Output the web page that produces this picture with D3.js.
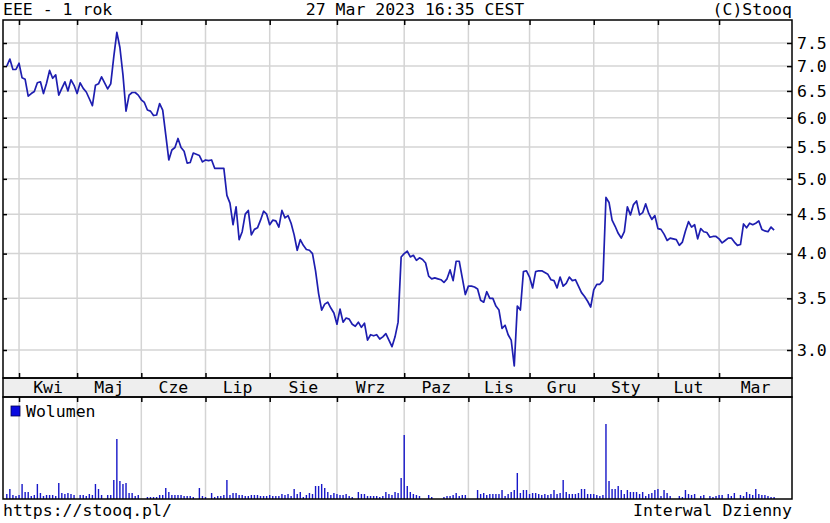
<!DOCTYPE html>
<meta charset="utf-8">
<head>
<style>
  body { margin: 0; background: #fff; }
  text { font-family: "DejaVu Sans Mono", monospace; font-size: 16.5px; fill: #000; }
  .grid { stroke: #d4d4d4; stroke-width: 1.5; }
  .frame { fill: none; stroke: #000; stroke-width: 1.5; }
  .axis path { display: none; }
  .axis line { stroke: #000; stroke-width: 1.5; }
</style>
</head>
<body>
<svg id="chart" width="830" height="523"></svg>
<script src="https://d3js.org/d3.v7.min.js"></script>
<script>

// month labels and the trading-day index where each month starts
var months = ["Kwi", "Maj", "Cze", "Lip", "Sie", "Wrz", "Paz", "Lis", "Gru", "Sty", "Lut", "Mar"];
var monthStart = [4, 23, 44, 65, 86, 108, 130, 151, 171, 192, 213, 233];

// price axis ticks (log scale)
var priceTicks = [3.0, 3.5, 4.0, 4.5, 5.0, 5.5, 6.0, 6.5, 7.0, 7.5];

// daily close, 28 Mar 2022 - 27 Mar 2023
var prices = [
  7.00, 7.15, 6.93, 6.93, 7.06, 6.76, 6.73, 6.40, 6.45, 6.49,
  6.66, 6.68, 6.45, 6.65, 6.91, 6.75, 6.82, 6.42, 6.55, 6.68,
  6.50, 6.72, 6.61, 6.45, 6.66, 6.55, 6.48, 6.35, 6.22, 6.61,
  6.64, 6.78, 6.66, 6.54, 6.64, 7.20, 7.74, 7.40, 6.82, 6.12,
  6.42, 6.47, 6.47, 6.42, 6.33, 6.28, 6.14, 6.12, 6.04, 6.05,
  6.26, 6.14, 5.70, 5.29, 5.45, 5.49, 5.64, 5.49, 5.43, 5.24,
  5.25, 5.40, 5.38, 5.36, 5.26, 5.29, 5.28, 5.29, 5.16, 5.16,
  5.16, 5.16, 4.76, 4.65, 4.36, 4.60, 4.17, 4.27, 4.50, 4.55,
  4.23, 4.30, 4.32, 4.42, 4.54, 4.50, 4.36, 4.42, 4.41, 4.33,
  4.55, 4.45, 4.48, 4.38, 4.23, 4.04, 4.17, 4.10, 4.05, 4.04,
  4.00, 3.80, 3.55, 3.38, 3.44, 3.46, 3.40, 3.35, 3.24, 3.39,
  3.26, 3.30, 3.29, 3.24, 3.22, 3.26, 3.21, 3.25, 3.09, 3.14,
  3.13, 3.14, 3.10, 3.12, 3.15, 3.09, 3.03, 3.12, 3.26, 3.96,
  4.00, 4.03, 3.96, 3.98, 3.92, 3.95, 3.93, 3.89, 3.74, 3.71,
  3.72, 3.71, 3.70, 3.67, 3.71, 3.81, 3.69, 3.91, 3.91, 3.72,
  3.54, 3.63, 3.63, 3.62, 3.60, 3.48, 3.46, 3.57, 3.50, 3.50,
  3.42, 3.38, 3.20, 3.23, 3.14, 3.09, 2.86, 3.42, 3.38, 3.79,
  3.80, 3.73, 3.61, 3.79, 3.80, 3.80, 3.78, 3.76, 3.70, 3.69,
  3.61, 3.73, 3.63, 3.66, 3.73, 3.69, 3.70, 3.63, 3.56, 3.52,
  3.47, 3.41, 3.59, 3.65, 3.65, 3.69, 4.73, 4.66, 4.42, 4.34,
  4.25, 4.19, 4.27, 4.60, 4.49, 4.63, 4.68, 4.49, 4.52, 4.64,
  4.51, 4.43, 4.48, 4.31, 4.30, 4.24, 4.16, 4.19, 4.18, 4.17,
  4.10, 4.14, 4.28, 4.40, 4.33, 4.36, 4.18, 4.31, 4.27, 4.26,
  4.20, 4.21, 4.21, 4.18, 4.13, 4.16, 4.19, 4.19, 4.14, 4.10,
  4.11, 4.37, 4.32, 4.38, 4.36, 4.38, 4.41, 4.30, 4.28, 4.27,
  4.33, 4.29
];

// daily volume (relative units)
var volume = [
  5, 10, 4, 3, 4, 15, 7, 7, 3, 4,
  15, 6, 3, 4, 4, 4, 3, 16, 6, 5,
  6, 5, 4, 0, 4, 4, 3, 5, 4, 15,
  10, 4, 0, 4, 4, 19, 60, 18, 15, 16,
  6, 6, 3, 4, 0, 0, 2, 2, 2, 2,
  4, 4, 11, 7, 4, 4, 4, 4, 3, 3,
  3, 2, 0, 11, 3, 2, 0, 6, 2, 3,
  3, 4, 19, 4, 6, 6, 4, 4, 3, 3,
  4, 4, 4, 3, 3, 3, 4, 3, 3, 3,
  5, 4, 5, 3, 10, 5, 7, 2, 4, 6,
  5, 13, 13, 15, 11, 7, 4, 6, 5, 4,
  4, 5, 3, 2, 0, 7, 5, 5, 3, 3,
  3, 3, 2, 3, 7, 5, 4, 7, 6, 21,
  64, 13, 7, 5, 4, 3, 0, 0, 4, 2,
  0, 0, 0, 2, 3, 3, 4, 6, 3, 4,
  4, 0, 0, 0, 9, 5, 6, 4, 5, 5,
  5, 5, 9, 3, 5, 7, 9, 26, 6, 9,
  9, 5, 6, 6, 5, 4, 5, 4, 5, 9,
  5, 6, 19, 7, 5, 5, 5, 6, 10, 10,
  5, 5, 5, 4, 3, 4, 75, 18, 10, 10,
  13, 9, 5, 9, 7, 7, 7, 5, 7, 3,
  5, 6, 9, 10, 3, 9, 6, 3, 0, 0,
  3, 2, 9, 5, 4, 5, 0, 3, 4, 0,
  3, 2, 3, 4, 4, 0, 5, 3, 6, 0,
  4, 3, 7, 5, 4, 10, 5, 4, 4, 3,
  2, 2
];

// panel layout
var left = 3, right = 792;
var pTop = 20, pBottom = 378, bandBottom = 397, vBottom = 499;

var svg = d3.select("#chart");

// scales
var x = d3.scaleLinear().domain([0, prices.length - 1]).range([6.8, 774.1]);
var y = d3.scaleLog().domain([3, 7.5]).range([350, 43]);
var yv = d3.scaleLinear().domain([0, 102]).range([vBottom, bandBottom]);

// month band background
svg.append("rect")
    .attr("x", left).attr("y", pBottom)
    .attr("width", right - left).attr("height", bandBottom - pBottom)
    .attr("fill", "#eeeeee");

// horizontal grid in price panel
svg.selectAll(".hgrid")
    .data(priceTicks)
  .enter().append("line")
    .attr("class", "grid")
    .attr("x1", left).attr("x2", right)
    .attr("y1", function(d) { return y(d); })
    .attr("y2", function(d) { return y(d); });

// vertical month grid, price and volume panels
[[pTop, pBottom], [bandBottom, vBottom]].forEach(function(p) {
  svg.selectAll(null)
      .data(monthStart)
    .enter().append("line")
      .attr("class", "grid")
      .attr("x1", function(d) { return x(d); })
      .attr("x2", function(d) { return x(d); })
      .attr("y1", p[0]).attr("y2", p[1]);
});

// volume bars
svg.selectAll(".vol")
    .data(volume)
  .enter().append("rect")
    .attr("x", function(d, i) { return x(i) - 0.7; })
    .attr("width", 1.4)
    .attr("y", function(d) { return yv(d); })
    .attr("height", function(d) { return vBottom - yv(d); })
    .attr("fill", "#1717c8");

// price line
var line = d3.line()
    .x(function(d, i) { return x(i); })
    .y(function(d) { return y(d); });

svg.append("path")
    .datum(prices)
    .attr("d", line)
    .attr("fill", "none")
    .attr("stroke", "#1e1eb0")
    .attr("stroke-width", 1.7)
    .attr("stroke-linejoin", "round");

// right price axis
svg.append("g")
    .attr("class", "axis")
    .attr("transform", "translate(" + right + ",0)")
    .call(d3.axisRight(y).tickValues(priceTicks)
      .tickFormat(d3.format(".1f")).tickSizeInner(-5).tickSizeOuter(0).tickPadding(5));

// small ticks on the left border
svg.append("g")
    .attr("class", "axis")
    .attr("transform", "translate(" + left + ",0)")
    .call(d3.axisLeft(y).tickValues(priceTicks)
      .tickFormat("").tickSizeInner(-4).tickSizeOuter(0));

// month ticks: top border, top and bottom of the band
var mt = function(ax, yy) {
  svg.append("g")
      .attr("class", "axis")
      .attr("transform", "translate(0," + yy + ")")
      .call(ax(x).tickValues(monthStart).tickFormat("").tickSizeInner(5).tickSizeOuter(0));
};
mt(d3.axisBottom, pTop);
mt(d3.axisTop, pBottom);
mt(d3.axisBottom, bandBottom);

// month labels centred between month starts
svg.selectAll(".mlab")
    .data(months)
  .enter().append("text")
    .attr("x", function(d, i) {
      var a = x(monthStart[i]);
      var b = i < monthStart.length - 1 ? x(monthStart[i + 1]) : right;
      return (a + b) / 2;
    })
    .attr("y", 393)
    .attr("text-anchor", "middle")
    .text(function(d) { return d; });

// frames
svg.append("rect").attr("class", "frame")
    .attr("x", left).attr("y", pTop).attr("width", right - left).attr("height", pBottom - pTop);
svg.append("rect").attr("class", "frame")
    .attr("x", left).attr("y", pBottom).attr("width", right - left).attr("height", bandBottom - pBottom);
svg.append("rect").attr("class", "frame")
    .attr("x", left).attr("y", bandBottom).attr("width", right - left).attr("height", vBottom - bandBottom);

// volume legend
svg.append("rect")
    .attr("x", 11).attr("y", 406).attr("width", 9).attr("height", 10)
    .attr("fill", "#0a0ae0").attr("stroke", "#000050").attr("stroke-width", 0.8);
svg.append("text").attr("x", 26).attr("y", 417).text("Wolumen");

// header and footer
svg.append("text").attr("x", 3).attr("y", 15).text("EEE - 1 rok");
svg.append("text").attr("x", 415).attr("y", 15).attr("text-anchor", "middle").text("27 Mar 2023 16:35 CEST");
svg.append("text").attr("x", right).attr("y", 15).attr("text-anchor", "end").text("(C)Stooq");
svg.append("text").attr("x", 3).attr("y", 516).text("https://stooq.pl/");
svg.append("text").attr("x", right).attr("y", 516).attr("text-anchor", "end").text("Interwal Dzienny");

</script>
</body>
